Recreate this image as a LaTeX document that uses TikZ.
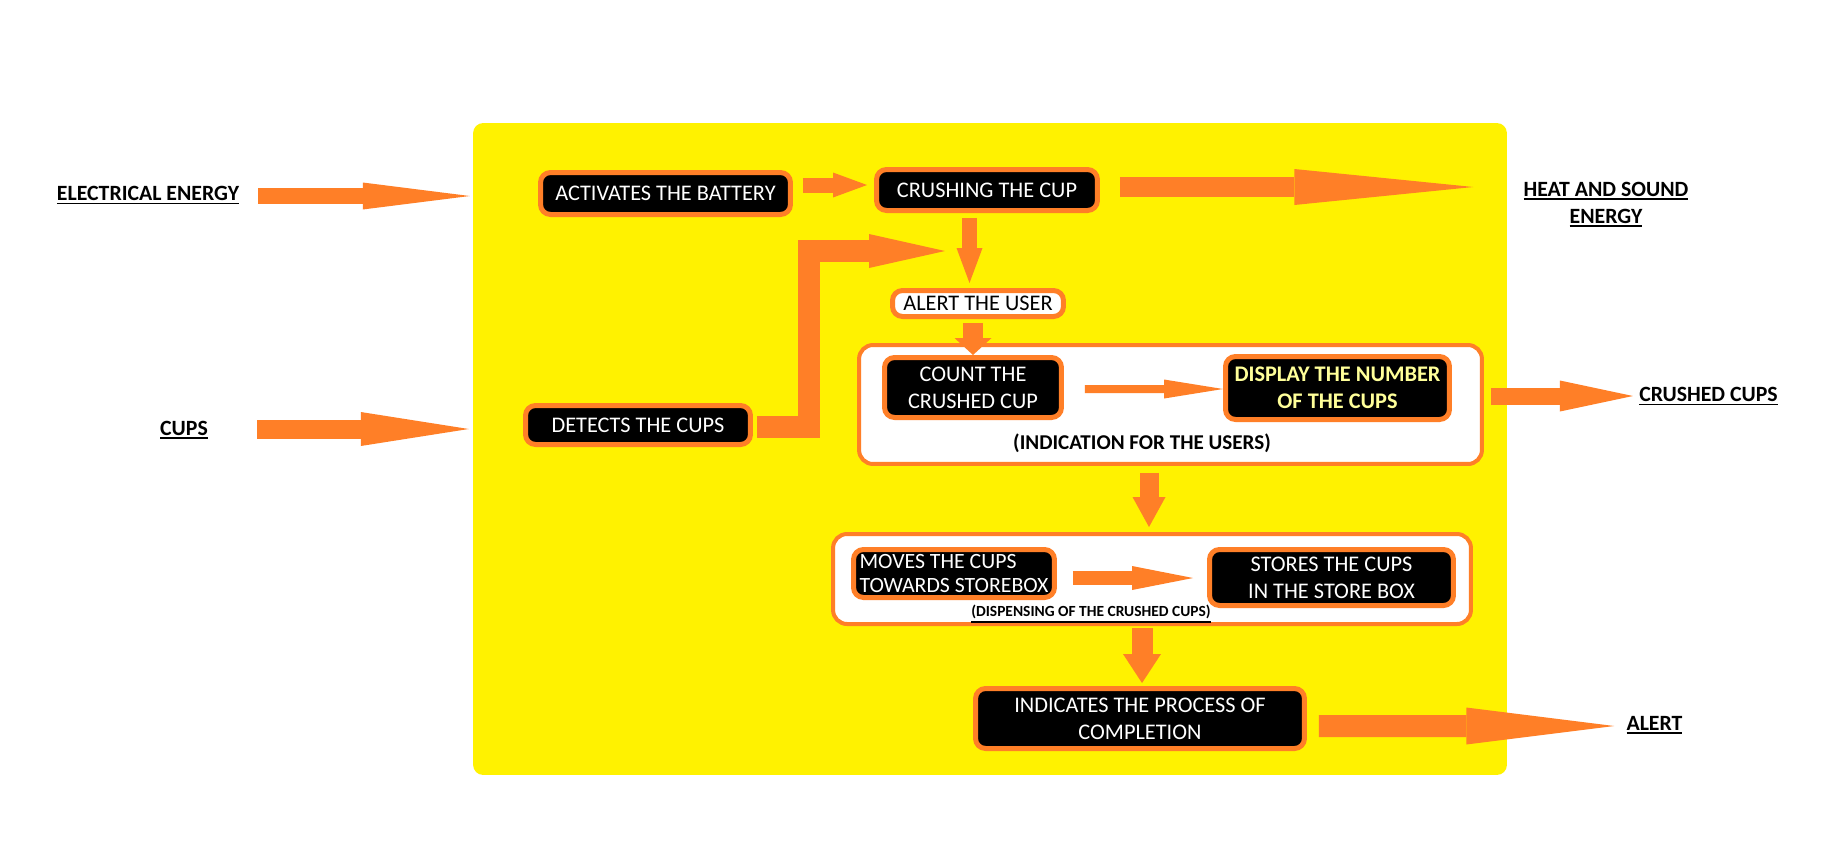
\documentclass[tikz,border=0pt]{standalone}
\usepackage{fontspec}
\setmainfont{Carlito}
\usetikzlibrary{arrows.meta,calc}
\definecolor{ylw}{HTML}{FFF200}
\definecolor{org}{HTML}{FF7F27}
\definecolor{paleyel}{HTML}{FFFF99}
\newcommand\myul[1]{\vtop{\hbox{#1}\kern0.9pt\hrule height 1.1pt}}
\begin{document}
\begin{tikzpicture}[x=0.02cm,y=-0.02cm,
  yelbox/.style={fill=ylw, rounded corners=0.2cm, inner sep=0pt, minimum width=20.68cm, minimum height=13.04cm},
  group/.style={draw=org, line width=0.08cm, fill=white, rounded corners=0.28cm, inner sep=0pt},
  blk/.style={draw=org, line width=0.1cm, fill=black, text=white, rounded corners=0.2cm, inner sep=0pt, align=center, font=\fontsize{12.7}{15.3}\selectfont},
  wbox/.style={blk, fill=white, text=black},
  lbl/.style={inner sep=0pt, align=center, font=\fontsize{12.4}{15.3}\selectfont\bfseries},
  fat/.style n args={3}{draw=org, line width=#1, line join=miter, -{Triangle[length=#2, width=#3, line width=0pt]}},
]
\fill[white] (0,0) rectangle (1832,849);
\useasboundingbox (0,0) rectangle (1832,849);

% main yellow system
\node[yelbox] (yellow) at (990,449) {};

% groups
\node[group, minimum width=12.46cm, minimum height=2.38cm] (indication) at (1170.5,404.5) {};
\node[group, minimum width=12.76cm, minimum height=1.8cm] (dispensing) at (1152,579) {};
\node[lbl, font=\fontsize{12}{15}\selectfont\bfseries] (indnote) at (1142,443) {(INDICATION FOR THE USERS)};
\node[lbl, font=\fontsize{8.8}{10}\selectfont\bfseries] (dispnote) at (1091,614) {\myul{(DISPENSING OF THE CRUSHED CUPS)}};

% outside labels
\node[lbl] (elec) at (148,195.5) {\myul{ELECTRICAL ENERGY}};
\node[lbl] (cups) at (184,430) {\myul{CUPS}};
\node[lbl] (heat) at (1606,204.5) {\myul{HEAT AND SOUND}\\\myul{ENERGY}};
\node[lbl] (crushed) at (1708.5,396.5) {\myul{CRUSHED CUPS}};
\node[lbl] (alertlbl) at (1654.5,725) {\myul{ALERT}};

% process boxes
\node[blk, minimum width=5.0cm, minimum height=0.84cm] (act) at (665.5,193.5) {ACTIVATES THE BATTERY};
\node[blk, minimum width=4.42cm, minimum height=0.82cm] (crush) at (987,190) {CRUSHING THE CUP};
\node[blk, minimum width=4.5cm, minimum height=0.78cm] (detect) at (638,425) {DETECTS THE CUPS};
\node[wbox, minimum width=3.42cm, minimum height=0.52cm] (alertuser) at (978,303.5) {ALERT THE USER};
\node[blk, minimum width=3.54cm, minimum height=1.2cm] (count) at (973,387.5) {COUNT THE\\CRUSHED CUP};
\node[blk, minimum width=4.48cm, minimum height=1.26cm, text=paleyel, font=\fontsize{12.7}{15.3}\selectfont\bfseries] (display) at (1337.5,388) {DISPLAY THE NUMBER\\OF THE CUPS};
\node[blk, minimum width=4.02cm, minimum height=0.96cm, align=left, font=\fontsize{12.4}{14.2}\selectfont] (moves) at (954,573.5) {MOVES THE CUPS\\TOWARDS STOREBOX};
\node[blk, minimum width=4.88cm, minimum height=1.12cm] (stores) at (1331.5,577.5) {STORES THE CUPS\\IN THE STORE BOX};
\node[blk, minimum width=6.58cm, minimum height=1.2cm] (indicates) at (1140,718.5) {INDICATES THE PROCESS OF\\COMPLETION};

\coordinate (meet) at (945,251);

% connectors
\draw[fat={0.32cm}{2.14cm}{0.54cm}] ($(elec.east)+(19,0.5)$) -- ($(elec.east -| yellow.west)+(-3,0.5)$);
\draw[fat={0.38cm}{2.16cm}{0.68cm}] ($(cups.east)+(49,-1)$) -- ($(cups.east -| yellow.west)+(-4,-1)$);
\draw[fat={0.3cm}{0.68cm}{0.5cm}] ($(act.east)+(10,-8.5)$) -- ($(crush.west)+(-7,-5)$);
\draw[fat={0.4cm}{3.58cm}{0.72cm}] ($(crush.east)+(20,-3)$) -- ($(crush.east -| yellow.east)+(-34,-3)$);
\draw[fat={0.3cm}{0.7cm}{0.52cm}] ($(crush.south)+(-17.5,5)$) -- ($(alertuser.north)+(-8.5,-5)$);
\draw[fat={0.44cm}{1.52cm}{0.68cm}] ($(detect.east)+(4,2)$) -- ++(52,0) |- (meet);
\draw[fat={0.4cm}{0.34cm}{0.74cm}] ($(alertuser.south)+(-5,4)$) -- (count.north);
\draw[fat={0.16cm}{1.18cm}{0.38cm}] ($(count.east)+(21,1.5)$) -- ($(display.west)+(0,1)$);
\draw[fat={0.34cm}{1.46cm}{0.62cm}] ($(display.east)+(39,8)$) -- ($(crushed.west)+(-6,-0.5)$);
\draw[fat={0.38cm}{0.6cm}{0.66cm}] ($(indication.south)+(-21.5,7)$) -- ($(dispensing.north)+(-3,-5)$);
\draw[fat={0.28cm}{1.22cm}{0.48cm}] ($(moves.east)+(16,4.5)$) -- ($(stores.west)+(-14,0.5)$);
\draw[fat={0.42cm}{0.58cm}{0.76cm}] ($(dispensing.south)+(-10,2)$) -- ($(indicates.north)+(2,-3)$);
\draw[fat={0.44cm}{2.96cm}{0.74cm}] ($(indicates.east)+(12,7.5)$) -- ($(alertlbl.west)+(-12,1)$);
\end{tikzpicture}
\end{document}
